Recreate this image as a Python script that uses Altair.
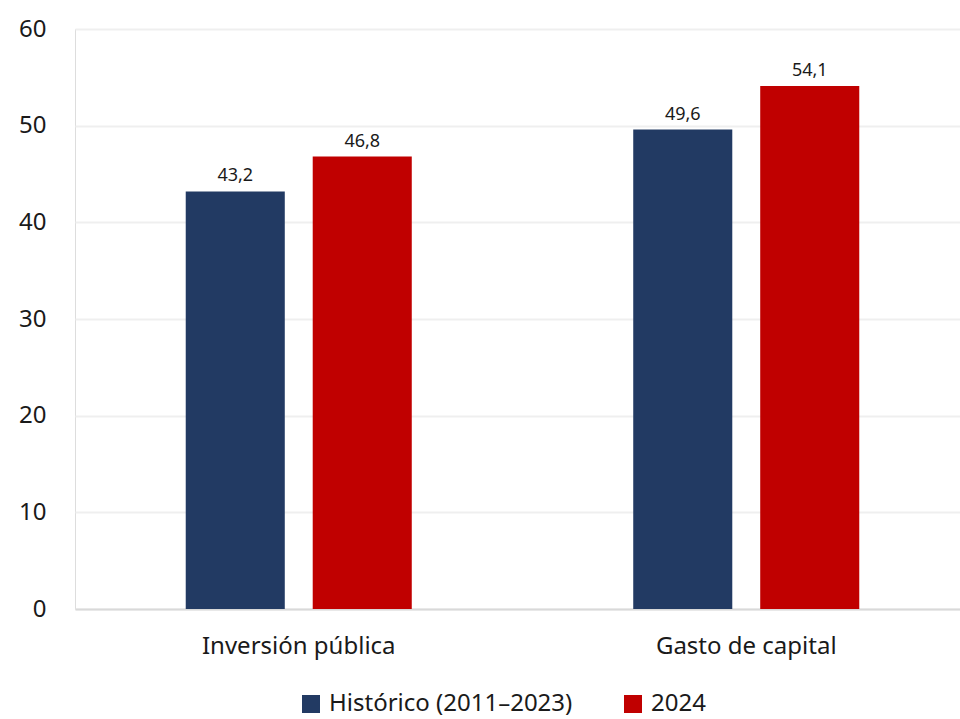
import altair as alt
import pandas as pd

categories = ["Inversión pública", "Gasto de capital"]
series = ["Histórico (2011–2023)", "2024"]
historico = [43.2, 49.6]
anio_2024 = [46.8, 54.1]
colors = ["#223A63", "#C00000"]

rows = []
for i, c in enumerate(categories):
    rows.append({"cat": c, "serie": series[0], "valor": historico[i]})
    rows.append({"cat": c, "serie": series[1], "valor": anio_2024[i]})
df = pd.DataFrame(rows)
df["etiqueta"] = df["valor"].map(lambda v: f"{v:.1f}".replace(".", ","))

FONT = "Noto Sans"

x = alt.X("cat:N", sort=categories, title=None,
          scale=alt.Scale(paddingInner=0, paddingOuter=0, range=[0, 895]),
          axis=alt.Axis(labelAngle=0, labelFontSize=24, labelColor="#1a1a1a",
                        labelPadding=25, labelLimit=0, ticks=False, domain=True,
                        domainColor="#D9D9D9", domainWidth=2, labelFont=FONT))
xo = alt.XOffset("serie:N", sort=series,
                 scale=alt.Scale(paddingInner=0.22, paddingOuter=0.872))
y = alt.Y("valor:Q", title=None,
          scale=alt.Scale(domain=[0, 60], nice=False),
          axis=alt.Axis(values=[0, 10, 20, 30, 40, 50, 60], labelFontSize=24,
                        labelColor="#1a1a1a", labelPadding=29, ticks=False,
                        domain=False, gridColor="#EFEFEF", gridWidth=2,
                        labelFont=FONT))

bars = alt.Chart(df).mark_bar().encode(
    x=x, xOffset=xo, y=y,
    color=alt.Color("serie:N", sort=series, title=None,
                    scale=alt.Scale(domain=series, range=colors),
                    legend=alt.Legend(orient="none", legendX=224, legendY=663,
                                      padding=0,
                                      direction="horizontal", symbolType="square",
                                      symbolSize=324, symbolStrokeWidth=0,
                                      labelFontSize=24, labelFont=FONT,
                                      labelLimit=0,
                                      labelColor="#1a1a1a", columnPadding=48,
                                      symbolOffset=0, labelOffset=6)),
)

labels = alt.Chart(df).mark_text(baseline="bottom", dy=-6, fontSize=18,
                                 font=FONT, color="#1a1a1a").encode(
    x=x, xOffset=xo, y=y, text="etiqueta:N")

chart = (bars + labels).properties(
    width=885, height=580,
    autosize=alt.AutoSizeParams(type="none"),
    padding={"left": 75, "top": 29, "right": 0, "bottom": 110},
).configure_view(stroke=None).configure(font=FONT)

chart.save("out.html", embed_options={"renderer": "svg", "actions": False})
